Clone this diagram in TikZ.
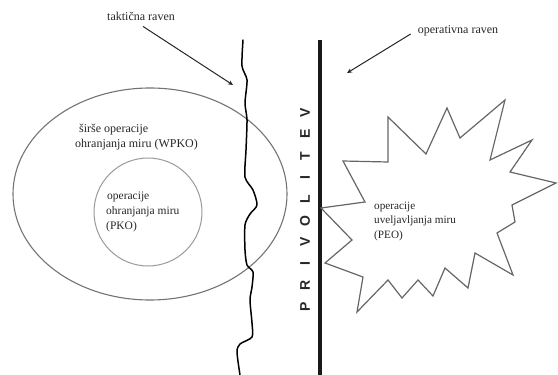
\documentclass[tikz,border=0pt]{standalone}
\usepackage{fontspec}
\setmainfont{Liberation Serif}
\newfontfamily\letterfont{Liberation Sans}
\usetikzlibrary{arrows.meta}
\begin{document}
\begin{tikzpicture}[x=1pt,y=-1pt,
  txt/.style={font=\fontsize{11.2}{14.5}\selectfont, text=black!85, inner sep=0pt, align=left},
  lbl/.style={font=\fontsize{12}{12}\selectfont, text=black!85, inner sep=1pt},
  arr/.style={line width=1pt, draw=black!85, -{Stealth[length=5pt,width=4.5pt]}},
  ltr/.style={font=\letterfont\bfseries\fontsize{14}{14}\selectfont, rotate=90, inner sep=0pt, text=black!85}
]
\useasboundingbox (0,0) rectangle (558,375);

% ellipse and inner circle
\draw[black!55, line width=1.1pt] (150,194) ellipse [x radius=137pt, y radius=106pt];
\draw[black!40, line width=1pt] (148,212) circle [radius=54pt];

% wavy tactical line
\draw[black, line width=1.5pt, line join=round, line cap=round] plot[smooth, tension=0.45] coordinates {
 (243,40) (242,66) (247,80) (245,103) (247,120) (246,150) (245,177) (253,190) (257,205) (250,214)
 (245,225) (245,250) (247,265) (253,272) (252,287) (250,300) (252,323) (252,337) (240,344) (237,352) (240,375)};

% thick vertical line
\draw[black!90, line width=3.6pt] (320,40) -- (320,375);

% starburst
\draw[black!60, line width=1.2pt, line join=miter] (321,208) -- (365,202) -- (343,161) -- (388,162) -- (388,117)
 -- (426,154) -- (447,108) -- (460,138) -- (505,100) -- (490,160) -- (532,140) -- (510,172) -- (556,183)
 -- (512,205) -- (515,222) -- (497,233) -- (513,275) -- (475,253) -- (468,288) -- (445,268) -- (433,296)
 -- (418,280) -- (402,298) -- (388,280) -- (357,312) -- (363,277) -- (325,263) -- (352,240) -- cycle;

% texts
\node[txt, anchor=west, font=\fontsize{12}{15}\selectfont] (wpko) at (75,137) {\hspace*{4pt}širše operacije\\ohranjanja miru (WPKO)};
\node[txt, anchor=west, font=\fontsize{11.5}{15}\selectfont] (pko) at (106,212) {\hspace*{1pt}operacije\\ohranjanja miru\\(PKO)};
\node[txt, anchor=west] (peo) at (374,221) {operacije\\uveljavljanja miru\\(PEO)};

% PRIVOLITEV
\foreach \c [count=\i] in {P,R,I,V,O,L,I,T,E,V} {
  \node[ltr] (l\i) at (305,{307-(\i-1)*21.6}) {\c};
}

% level labels and arrows
\node[lbl] (tak) at (141,16) {taktična raven};
\node[lbl] (ope) at (458,31) {operativna raven};
\coordinate (takend) at (233,85);
\coordinate (opeend) at (347,73);
\draw[arr] ([xshift=2pt,yshift=-5pt]tak.south) -- (takend);
\draw[arr] ([xshift=-6pt,yshift=-3pt]ope.west) -- (opeend);
\end{tikzpicture}
\end{document}
